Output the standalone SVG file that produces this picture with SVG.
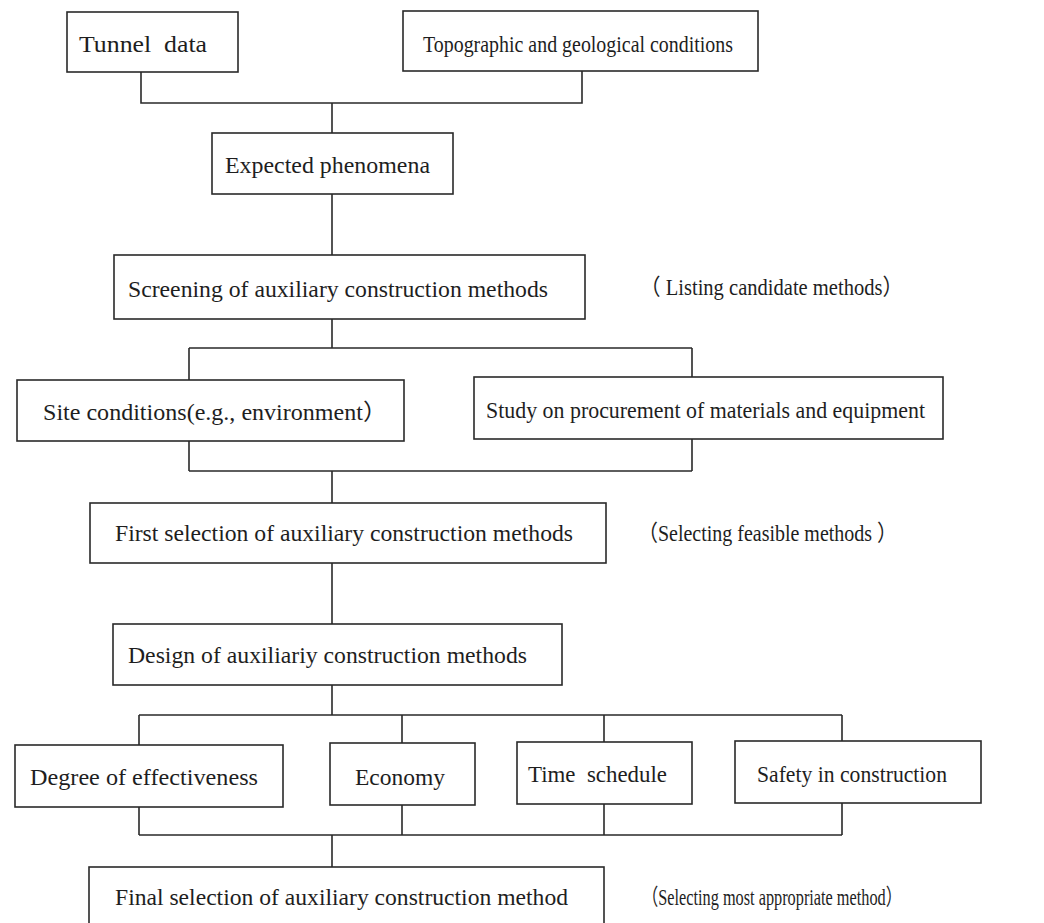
<svg xmlns="http://www.w3.org/2000/svg" width="1044" height="923" viewBox="0 0 1044 923">
<style>
.box{fill:#fff;stroke:#2a2a2a;stroke-width:1.6}
.ln{fill:none;stroke:#2a2a2a;stroke-width:1.6}
text{font-family:"Liberation Serif","Noto Sans CJK SC",serif;font-size:22.5px;fill:#1e1e1e;white-space:pre}
</style>
<rect width="1044" height="923" fill="#fff"/>
<g id="connectors">
<path class="ln" d="M141 72V103H582V71M332 103V133"/>
<path class="ln" d="M332 194V255"/>
<path class="ln" d="M332 319V348M189 348H692M189 348V380M692 348V377"/>
<path class="ln" d="M189 441V471M692 439V471M189 471H692M332 471V503"/>
<path class="ln" d="M332 563V624"/>
<path class="ln" d="M332 685V715M139 715H842M139 715V745M402 715V743M604 715V742M842 715V741"/>
<path class="ln" d="M139 807V835M402 805V835M604 804V835M842 803V835M139 835H842M332 835V867"/>
</g>
<g id="n-tunnel"><rect class="box" x="67" y="12" width="171" height="60"/><text x="79" y="52" textLength="128" lengthAdjust="spacingAndGlyphs">Tunnel  data</text></g>
<g id="n-topo"><rect class="box" x="403" y="11" width="355" height="60"/><text x="423" y="52" textLength="310" lengthAdjust="spacingAndGlyphs">Topographic and geological conditions</text></g>
<g id="n-expected"><rect class="box" x="212" y="133" width="241" height="61"/><text x="225" y="173" textLength="205" lengthAdjust="spacingAndGlyphs">Expected phenomena</text></g>
<g id="n-screening"><rect class="box" x="114" y="255" width="471" height="64"/><text x="128" y="297" textLength="420" lengthAdjust="spacingAndGlyphs">Screening of auxiliary construction methods</text></g>
<g id="note-listing"><text x="640" y="295" textLength="263" lengthAdjust="spacingAndGlyphs">（ Listing candidate methods）</text></g>
<g id="n-site"><rect class="box" x="17" y="380" width="387" height="61"/><text x="43" y="420" textLength="344" lengthAdjust="spacingAndGlyphs">Site conditions(e.g., environment）</text></g>
<g id="n-study"><rect class="box" x="474" y="377" width="469" height="62"/><text x="486" y="418" textLength="439" lengthAdjust="spacingAndGlyphs">Study on procurement of materials and equipment</text></g>
<g id="n-first"><rect class="box" x="90" y="503" width="516" height="60"/><text x="115" y="541" textLength="458" lengthAdjust="spacingAndGlyphs">First selection of auxiliary construction methods</text></g>
<g id="note-feasible"><text x="638" y="541" textLength="259" lengthAdjust="spacingAndGlyphs">（Selecting feasible methods ）</text></g>
<g id="n-design"><rect class="box" x="113" y="624" width="449" height="61"/><text x="128" y="663" textLength="399" lengthAdjust="spacingAndGlyphs">Design of auxiliariy construction methods</text></g>
<g id="n-degree"><rect class="box" x="15" y="745" width="268" height="62"/><text x="30" y="785" textLength="228" lengthAdjust="spacingAndGlyphs">Degree of effectiveness</text></g>
<g id="n-economy"><rect class="box" x="330" y="743" width="145" height="62"/><text x="355" y="785" textLength="90" lengthAdjust="spacingAndGlyphs">Economy</text></g>
<g id="n-time"><rect class="box" x="517" y="742" width="175" height="62"/><text x="528" y="782" textLength="139" lengthAdjust="spacingAndGlyphs">Time  schedule</text></g>
<g id="n-safety"><rect class="box" x="735" y="741" width="246" height="62"/><text x="757" y="782" textLength="190" lengthAdjust="spacingAndGlyphs">Safety in construction</text></g>
<g id="n-final"><rect class="box" x="89" y="867" width="515" height="70"/><text x="115" y="905" textLength="453" lengthAdjust="spacingAndGlyphs">Final selection of auxiliary construction method</text></g>
<g id="note-appropriate"><text x="642" y="905" textLength="260" lengthAdjust="spacingAndGlyphs">（Selecting most appropriate method）</text></g>
</svg>
